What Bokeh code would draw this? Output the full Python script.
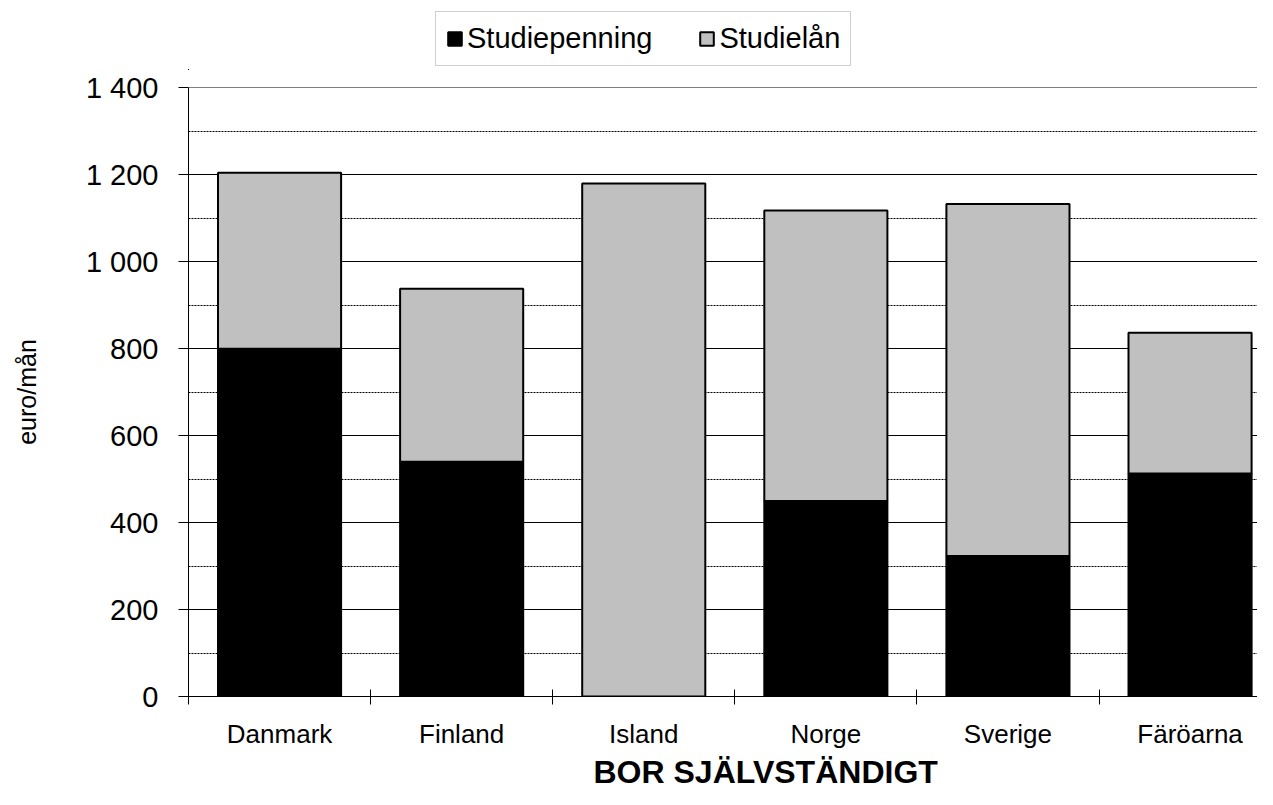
from bokeh.plotting import figure
from bokeh.layouts import column
from bokeh.models import (Range1d, FixedTicker, ColumnDataSource, Legend,
                          LegendItem, Title)
from bokeh.embed import file_html
from bokeh.resources import INLINE

# ---- data ----
categories = ["Danmark", "Finland", "Island", "Norge", "Sverige", "Färöarna"]
studiepenning = [800, 540, 0, 450, 323, 513]
studielan = [405, 398, 1180, 668, 810, 324]
y_ticks = [0, 200, 400, 600, 800, 1000, 1200, 1400]
y_tick_labels = ["0", "200", "400", "600", "800", "1 000", "1 200", "1 400"]
series_names = ["Studiepenning", "Studielån"]
series_colors = ["black", "#C0C0C0"]

FONT = "Liberation Sans"
positions = [i + 1 for i in range(len(categories))]
src = ColumnDataSource(dict(x=positions, sp=studiepenning, sl=studielan))

W = 1257
LEG_H = 70
H = 789 - LEG_H
LEFT, TOP, BOTTOM = 188, 17, 89
frame_w = W - LEFT
cat_px = 182.1

# ---- legend strip (top); its ranges keep the stand-in bars out of view ----
top = figure(width=W, height=LEG_H, output_backend="svg", toolbar_location=None,
             x_axis_type=None, y_axis_type=None, x_range=Range1d(100, 101),
             y_range=Range1d(10000, 10001), min_border=0)
top.outline_line_color = None
top.xgrid.visible = False
top.ygrid.visible = False
leg_rs = top.vbar_stack(["sp", "sl"], x="x", width=0.5, source=src,
                        fill_color=series_colors, line_color="black",
                        line_width=2)
legend = Legend(items=[LegendItem(label=n, renderers=[r]) for n, r in zip(series_names, leg_rs)],
                orientation="horizontal", location=(247, 4),
                label_text_font=FONT, label_text_font_size="29px",
                label_text_color="black", glyph_width=17, glyph_height=17,
                label_standoff=4, spacing=46, padding=10, margin=0,
                border_line_color="#A0A0A0", border_line_width=1,
                background_fill_color="white", background_fill_alpha=1)
top.add_layout(legend, "center")

# ---- main chart ----
p = figure(width=W, height=H, output_backend="svg", toolbar_location=None,
           x_range=Range1d(0.5, 0.5 + frame_w / cat_px), y_range=Range1d(0, 1401),
           min_border_left=LEFT, min_border_right=0, min_border_top=TOP,
           min_border_bottom=BOTTOM)
p.outline_line_color = None
p.background_fill_color = "white"
p.border_fill_color = "white"

rs = p.vbar_stack(["sp", "sl"], x="x", width=0.676, source=src,
                  fill_color=series_colors, line_color="black",
                  line_width=2)

# x axis
xt = FixedTicker(ticks=positions, minor_ticks=[i + 0.5 for i in range(len(categories) + 1)])
p.xaxis.ticker = xt
p.xaxis.major_label_overrides = {pos: c for pos, c in zip(positions, categories)}
p.xaxis.major_tick_line_color = None
p.xaxis.major_tick_out = 0
p.xaxis.major_tick_in = 0
p.xaxis.minor_tick_in = 7
p.xaxis.minor_tick_out = 8
p.xaxis.minor_tick_line_color = "black"
p.xaxis.axis_line_color = "black"
p.xaxis.major_label_text_font = FONT
p.xaxis.major_label_text_font_size = "26px"
p.xaxis.major_label_text_color = "black"
p.xaxis.major_label_standoff = 14

# y axis
mids = [(a + b) / 2 for a, b in zip(y_ticks[:-1], y_ticks[1:])]
yt = FixedTicker(ticks=y_ticks, minor_ticks=mids)
p.yaxis.ticker = yt
p.ygrid.ticker = yt
p.yaxis.major_label_overrides = {t: l for t, l in zip(y_ticks, y_tick_labels)}
p.yaxis.major_tick_in = 0
p.yaxis.major_tick_out = 10
p.yaxis.major_tick_line_color = "black"
p.yaxis.minor_tick_line_color = None
p.yaxis.axis_line_color = "black"
p.yaxis.major_label_text_font = FONT
p.yaxis.major_label_text_font_size = "29px"
p.yaxis.major_label_text_color = "black"
p.yaxis.major_label_standoff = 20
p.yaxis.axis_label = "euro/mån"
p.yaxis.axis_label_text_font = FONT
p.yaxis.axis_label_text_font_size = "25px"
p.yaxis.axis_label_text_font_style = "normal"
p.yaxis.axis_label_text_color = "black"
p.yaxis.axis_label_standoff = 42

p.xgrid.visible = False
p.ygrid.grid_line_color = "black"
p.ygrid.grid_line_width = 1
p.ygrid.minor_grid_line_color = "black"
p.ygrid.minor_grid_line_dash = "2 1"
p.ygrid.minor_grid_line_width = 1

t = Title(text="BOR SJÄLVSTÄNDIGT", align="left", offset=405, standoff=0,
          text_font=FONT, text_font_size="32px", text_font_style="bold",
          text_color="black")
p.add_layout(t, "below")

layout = column(top, p, spacing=0)
open("out.html", "w").write(file_html(layout, INLINE))
